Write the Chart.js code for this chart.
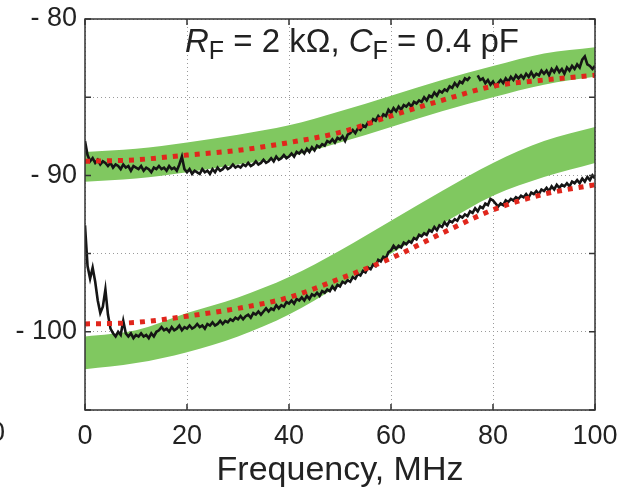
<!DOCTYPE html>
<html>
<head>
<meta charset="UTF-8">
<title>Noise spectrum, RF = 2 kOhm</title>
<script src="https://cdn.jsdelivr.net/npm/chart.js"></script>
<style>
  body { margin: 0; background: #fff; }
  canvas { display: block; }
</style>
</head>
<body>
<canvas id="grafico" width="622" height="488"></canvas>
<script>
// model curves and uncertainty bands, sampled every 10 MHz
const modelFreq = [0, 10, 20, 30, 40, 50, 60, 70, 80, 90, 100];
const upperBandTop = [-88.5, -88.3, -87.9, -87.4, -86.8, -85.9, -84.9, -83.9, -83.0, -82.2, -81.8];
const upperBandBot = [-90.4, -90.2, -89.8, -89.3, -88.8, -87.9, -86.9, -85.9, -85.0, -84.2, -83.7];
const lowerBandTop = [-100.3, -99.9, -98.8, -97.8, -96.5, -94.8, -92.9, -91.0, -89.2, -87.8, -86.9];
const lowerBandBot = [-102.4, -102.0, -101.3, -100.3, -98.9, -97.0, -95.0, -93.1, -91.3, -90.1, -89.2];
const upperModel = [-89.1, -89.0, -88.7, -88.4, -87.9, -87.25, -86.2, -85.2, -84.3, -83.9, -83.6];
const lowerModel = [-99.5, -99.4, -99.0, -98.5, -97.8, -96.6, -95.3, -93.7, -92.2, -91.2, -90.6];

// measured spectra, one value every 0.5 MHz from 0 to 100 MHz
const measStep = 0.5;
const upperMeas = [
  -87.8, -88.7, -89.1, -88.9, -89.2, -89.0, -89.3, -89.1, -89.2, -89.4,
  -89.2, -89.5, -89.3, -89.4, -89.6, -89.3, -89.5, -89.4, -89.7, -89.4,
  -89.5, -89.6, -89.4, -89.7, -89.5, -89.6, -89.8, -89.5, -89.6, -89.4,
  -89.6, -89.5, -89.7, -89.4, -89.6, -89.5, -89.7, -89.3, -88.8, -89.6,
  -89.8, -89.6, -89.9, -89.7, -89.8, -89.9, -89.6, -89.8, -89.7, -89.9,
  -89.6, -89.8, -89.5, -89.7, -89.6, -89.4, -89.6, -89.5, -89.3, -89.5,
  -89.4, -89.5, -89.3, -89.4, -89.2, -89.4, -89.3, -89.1, -89.3, -89.2,
  -89.0, -89.2, -89.1, -88.9, -89.1, -88.8, -89.0, -88.9, -88.7, -88.9,
  -88.8, -88.6, -88.8, -88.5, -88.6, -88.4, -88.6, -88.3, -88.5, -88.2,
  -88.4, -88.1, -88.2, -88.0, -88.1, -87.8, -87.9, -87.7, -87.9, -87.6,
  -87.7, -87.5, -87.8, -87.4, -87.3, -87.1, -87.3, -87.0, -87.1, -86.8,
  -86.9, -86.6, -86.7, -86.4, -86.5, -86.2, -86.4, -86.1, -86.2, -85.8,
  -86.0, -85.7, -85.9, -85.6, -85.8, -85.5, -85.6, -85.4, -85.6, -85.3,
  -85.4, -85.2, -85.3, -85.0, -85.2, -84.9, -85.0, -84.7, -84.9, -84.6,
  -84.7, -84.5, -84.6, -84.3, -84.4, -84.1, -84.3, -84.0, -84.1, -83.8,
  -83.9, -83.7, null, null, -83.6, -83.9, -83.8, -84.1, -83.9, -84.2,
  -84.0, -84.3, -84.1, -83.9, -84.1, -83.8, -84.0, -83.7, -83.9, -83.6,
  -83.8, -83.6, -83.8, -83.5, -83.7, -83.4, -83.7, -83.5, -83.6, -83.3,
  -83.5, -83.3, -83.6, -83.2, -83.4, -83.1, -83.4, -83.2, -83.5, -83.1,
  -83.3, -83.0, -83.2, -82.9, -83.1, -82.6, -82.4, -82.9, -83.0, -83.2,
  -83.0
];
const lowerMeas = [
  -93.2, -95.8, -96.6, -95.9, -96.8, -98.0, -98.8, -98.4, -97.3, -98.9,
  -99.8, -100.1, -100.3, -100.0, -100.2, -99.3, -100.1, -100.3, -100.1, -100.4,
  -100.2, -100.3, -100.1, -100.3, -100.2, -100.4, -100.1, -100.3, -100.0, -99.9,
  -99.7, -99.9, -99.8, -100.0, -99.7, -99.9, -99.8, -99.6, -99.9, -99.7,
  -99.8, -99.6, -99.8, -99.7, -99.5, -99.7, -99.6, -99.8, -99.5, -99.6,
  -99.4, -99.6, -99.5, -99.3, -99.5, -99.3, -99.4, -99.2, -99.3, -99.1,
  -99.2, -99.0, -99.2, -99.0, -98.9, -99.1, -98.8, -98.9, -98.7, -98.9,
  -98.7, -98.5, -98.7, -98.5, -98.6, -98.3, -98.5, -98.3, -98.4, -98.1,
  -98.2, -98.0, -98.2, -97.9, -98.0, -97.8, -98.0, -97.7, -97.9, -97.6,
  -97.7, -97.5, -97.7, -97.4, -97.5, -97.3, -97.4, -97.1, -97.3, -97.0,
  -97.1, -96.8, -96.9, -96.7, -96.8, -96.5, -96.6, -96.3, -96.4, -96.1,
  -96.2, -95.9, -96.0, -95.7, -95.8, -95.4, -95.5, -95.2, -95.3, -94.9,
  -94.8, -94.5, -94.7, -94.5, -94.6, -94.3, -94.4, -94.2, -94.3, -94.0,
  -94.1, -93.8, -93.9, -93.7, -93.8, -93.5, -93.6, -93.3, -93.5, -93.2,
  -93.3, -93.0, -93.2, -92.9, -93.0, -92.8, -92.9, -92.6, -92.7, -92.5,
  -92.6, -92.3, -92.4, -92.1, -92.3, -92.0, -92.1, -91.8, -91.9, -91.5,
  -91.6, -91.8, -92.0, -91.8, -91.9, -91.6, -91.7, -91.5, -91.6, -91.4,
  -91.5, -91.3, -91.4, -91.2, -91.4, -91.1, -91.2, -91.0, -91.2, -90.9,
  -91.0, -90.8, -91.0, -90.7, -90.9, -90.6, -90.8, -90.6, -90.7, -90.5,
  -90.7, -90.4, -90.5, -90.3, -90.5, -90.2, -90.4, -90.1, -90.3, -90.0,
  -90.2
];

const xTicks = [0, 20, 40, 60, 80, 100];
const yTicks = [-105, -100, -95, -90, -85, -80];

const fam = '"Liberation Sans", Arial, sans-serif';
const green = '#80c860';
const red = '#e0261c';

const pts = (xs, ys) => ys.map((y, i) => ({ x: xs[i], y: y }));
const meas = ys => ys.map((y, i) => ({ x: i * measStep, y: y }));

function band(data, fill) {
  return {
    data: data, fill: fill, backgroundColor: green, borderWidth: 0,
    pointRadius: 0, cubicInterpolationMode: 'monotone', order: 3
  };
}

// no extra room for edge labels, the layout padding sets the plot box
function noEdgePad(s) {
  s.paddingLeft = 0; s.paddingRight = 0; s.paddingTop = 0; s.paddingBottom = 0;
}

const frame = {
  id: 'frame',
  afterDraw(chart) {
    const ctx = chart.ctx, a = chart.chartArea;
    const sx = chart.scales.x, sy = chart.scales.y;
    ctx.save();
    ctx.strokeStyle = '#333';
    ctx.lineWidth = 1.5;
    ctx.strokeRect(a.left, a.top, a.right - a.left, a.bottom - a.top);
    ctx.beginPath();
    xTicks.forEach(v => {
      const px = sx.getPixelForValue(v);
      ctx.moveTo(px, a.bottom); ctx.lineTo(px, a.bottom - 6);
      ctx.moveTo(px, a.top); ctx.lineTo(px, a.top + 6);
    });
    yTicks.forEach(v => {
      const py = sy.getPixelForValue(v);
      ctx.moveTo(a.left, py); ctx.lineTo(a.left + 6, py);
      ctx.moveTo(a.right, py); ctx.lineTo(a.right - 6, py);
    });
    ctx.stroke();

    // zero label of the neighbouring panel, cut by the edge
    ctx.fillStyle = '#222';
    ctx.font = '27px ' + fam;
    ctx.textAlign = 'right';
    ctx.textBaseline = 'top';
    ctx.fillText('0', 5, a.bottom + 10);

    // title with subscripts
    const parts = [
      ['R', 'italic 33px ' + fam, 0],
      ['F', '25px ' + fam, 7],
      [' = 2 kΩ, ', '33px ' + fam, 0],
      ['C', 'italic 33px ' + fam, 0],
      ['F', '25px ' + fam, 7],
      [' = 0.4 pF', '33px ' + fam, 0]
    ];
    ctx.textAlign = 'left';
    ctx.textBaseline = 'alphabetic';
    let x = 185;
    parts.forEach(p => {
      ctx.font = p[1];
      ctx.fillText(p[0], x, 52 + p[2]);
      x += ctx.measureText(p[0]).width;
    });
    ctx.restore();
  }
};

new Chart(document.getElementById('grafico'), {
  type: 'line',
  data: {
    datasets: [
      band(pts(modelFreq, upperBandBot), false),
      band(pts(modelFreq, upperBandTop), '-1'),
      band(pts(modelFreq, lowerBandBot), false),
      band(pts(modelFreq, lowerBandTop), '-1'),
      {
        data: meas(upperMeas), borderColor: '#151515', borderWidth: 2.6,
        pointRadius: 0, fill: false, spanGaps: false, order: 2
      },
      {
        data: meas(lowerMeas), borderColor: '#151515', borderWidth: 2.6,
        pointRadius: 0, fill: false, order: 2
      },
      {
        data: pts(modelFreq, upperModel), borderColor: red, borderWidth: 5,
        borderDash: [5, 6], borderCapStyle: 'butt', pointRadius: 0, fill: false,
        cubicInterpolationMode: 'monotone', order: 1
      },
      {
        data: pts(modelFreq, lowerModel), borderColor: red, borderWidth: 5,
        borderDash: [5, 6], borderCapStyle: 'butt', pointRadius: 0, fill: false,
        cubicInterpolationMode: 'monotone', order: 1
      }
    ]
  },
  options: {
    responsive: false,
    animation: false,
    layout: { padding: { top: 19, right: 27, left: 0, bottom: 0 } },
    plugins: { legend: { display: false }, tooltip: { enabled: false } },
    scales: {
      x: {
        type: 'linear', min: 0, max: 100,
        afterBuildTicks: s => { s.ticks = xTicks.map(v => ({ value: v })); },
        afterFit: s => { s.height = 78; noEdgePad(s); },
        grid: { color: '#9a9a9a', lineWidth: 1, drawTicks: false },
        border: { display: false, dash: [1, 3] },
        ticks: { padding: 10, color: '#222', font: { family: fam, size: 27 } },
        title: {
          display: true, text: 'Frequency, MHz', color: '#222',
          font: { family: fam, size: 34, lineHeight: 1 }, padding: { top: 0, bottom: 0 }
        }
      },
      y: {
        type: 'linear', min: -105, max: -80,
        afterBuildTicks: s => { s.ticks = yTicks.map(v => ({ value: v })); },
        afterFit: s => { s.width = 85; noEdgePad(s); },
        grid: { color: '#9a9a9a', lineWidth: 1, drawTicks: false },
        border: { display: false, dash: [1, 3] },
        ticks: {
          padding: 8, color: '#222', font: { family: fam, size: 27 },
          callback: v => (v % 10 === 0 && v > -105) ? '- ' + Math.abs(v) : ''
        }
      }
    }
  },
  plugins: [frame]
});
</script>
</body>
</html>
